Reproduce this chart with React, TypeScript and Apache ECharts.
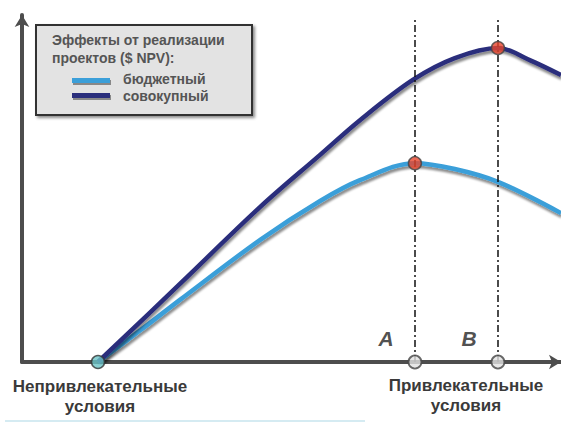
import React, { useEffect, useRef } from "react";
import * as echarts from "echarts";

// Data (x: position along "conditions" axis, 0..100; y: NPV effect, 0..100)
const totalData: number[][] = [
  [14.1, 0], [29.3, 22.5], [44.2, 44.7], [55.3, 59.7],
  [62.7, 69.7], [72.5, 81.3], [80.3, 87.6], [88.3, 90.5], [94.2, 87.0], [100, 82.7],
];
const budgetData: number[][] = [
  [14.1, 0], [22.0, 9.2], [29.3, 17.9], [44.2, 35.2], [55.3, 46.4],
  [62.7, 52.4], [72.9, 57.3], [80.3, 55.6], [88.3, 51.9], [100, 42.9],
];
const peakPoints: number[][] = [[72.9, 57.3], [88.3, 90.5]];
const axisPoints: number[][] = [[72.9, 0], [88.3, 0]];
const axisPointLabels: string[] = ["A", "B"];
const originPoint: number[][] = [[14.1, 0]];
const guideTop = 98.6;
const seriesNames: string[] = ["бюджетный", "совокупный"];
const legendTitle = "Эффекты от реализации\nпроектов ($ NPV):";
const bottomLabels: string[] = ["Непривлекательные\nусловия", "Привлекательные\nусловия"];

const NAVY = "#2b2d7c";
const BLUE = "#3a9fd9";
const AXIS = "#4d4d4d";

export default function App() {
  const ref = useRef<HTMLDivElement>(null);
  useEffect(() => {
    document.body.style.margin = "0";
    const chart = echarts.init(ref.current!, null, { renderer: "svg" });
    const shadow = { shadowColor: "rgba(0,0,0,0.45)", shadowBlur: 2, shadowOffsetY: 3, shadowOffsetX: 1 };
    const dashDot = { color: "#111", width: 1.5, type: [7, 3, 2, 3] as any };
    chart.setOption({
      animation: false,
      backgroundColor: "#ffffff",
      grid: { left: 22, right: 0, top: 15, bottom: 61 },
      xAxis: {
        type: "value", min: 0, max: 100,
        axisLine: { show: true, lineStyle: { color: AXIS, width: 4 }, symbol: ["none", "arrow"], symbolSize: [11, 12] },
        axisTick: { show: false }, axisLabel: { show: false }, splitLine: { show: false },
      },
      yAxis: {
        type: "value", min: 0, max: 100,
        axisLine: { show: true, lineStyle: { color: AXIS, width: 4 }, symbol: ["none", "arrow"], symbolSize: [11, 12] },
        axisTick: { show: false }, axisLabel: { show: false }, splitLine: { show: false },
      },
      series: [
        {
          name: seriesNames[0], type: "line", data: budgetData, smooth: 0.35, showSymbol: false,
          lineStyle: { color: BLUE, width: 4.5, ...shadow }, z: 3,
        },
        {
          name: seriesNames[1], type: "line", data: totalData, smooth: 0.35, showSymbol: false,
          lineStyle: { color: NAVY, width: 4.5, ...shadow }, z: 3,
          markLine: {
            silent: true, symbol: "none", label: { show: false },
            lineStyle: dashDot,
            data: axisPoints.map((p) => [{ coord: [p[0], 0] }, { coord: [p[0], guideTop] }]),
          },
        },
        {
          type: "scatter", data: originPoint, symbolSize: 13, z: 6,
          itemStyle: { color: "#6cc3c6", borderColor: "#333", borderWidth: 1.5 },
        },
        {
          type: "scatter", data: axisPoints, symbolSize: 13, z: 6,
          itemStyle: { color: "#e2e2e2", borderColor: "#444", borderWidth: 1.8 },
          label: {
            show: true, position: [-29, -27],
            formatter: (p: any) => axisPointLabels[p.dataIndex],
            fontFamily: "Liberation Sans", fontStyle: "italic", fontWeight: "bold", fontSize: 21, color: "#222",
          },
        },
        {
          type: "scatter", data: peakPoints, symbolSize: 13, z: 6,
          itemStyle: { color: "#e8452c", borderColor: "#444", borderWidth: 1.5 },
        },
      ],
      graphic: [
        {
          type: "rect", left: 35, top: 24, z: 10,
          shape: { width: 216, height: 90 },
          style: { fill: "#e3e3e3", stroke: "#333", lineWidth: 2, shadowColor: "rgba(0,0,0,0.45)", shadowBlur: 3, shadowOffsetX: 2, shadowOffsetY: 2 },
        },
        {
          type: "text", left: 52, top: 31, z: 11,
          style: { text: legendTitle, fontFamily: "Liberation Sans", fontWeight: "bold", fontSize: 14, lineHeight: 18, fill: "#555" },
        },
        {
          type: "rect", left: 72, top: 78, z: 11,
          shape: { width: 38, height: 5 },
          style: { fill: BLUE, shadowColor: "rgba(0,0,0,0.4)", shadowBlur: 1, shadowOffsetY: 2, shadowOffsetX: 1 },
        },
        {
          type: "rect", left: 72, top: 93, z: 11,
          shape: { width: 38, height: 5 },
          style: { fill: NAVY, shadowColor: "rgba(0,0,0,0.4)", shadowBlur: 1, shadowOffsetY: 2, shadowOffsetX: 1 },
        },
        {
          type: "text", left: 123, top: 72, z: 11,
          style: { text: seriesNames[0], fontFamily: "Liberation Sans", fontWeight: "bold", fontSize: 14, fill: "#555" },
        },
        {
          type: "text", left: 123, top: 89, z: 11,
          style: { text: seriesNames[1], fontFamily: "Liberation Sans", fontWeight: "bold", fontSize: 14, fill: "#555" },
        },
        {
          type: "text", x: 100, y: 376, z: 11,
          style: { text: bottomLabels[0], textAlign: "center", fontFamily: "Liberation Sans", fontWeight: "bold", fontSize: 17, lineHeight: 20, fill: "#3a3a3a" },
        },
        {
          type: "text", x: 466, y: 375, z: 11,
          style: { text: bottomLabels[1], textAlign: "center", fontFamily: "Liberation Sans", fontWeight: "bold", fontSize: 17, lineHeight: 20, fill: "#3a3a3a" },
        },
        {
          type: "line", z: 11,
          shape: { x1: 5, y1: 421, x2: 365, y2: 421 },
          style: { stroke: "#c7e4ee", lineWidth: 1.5 },
        },
      ],
    });
    return () => chart.dispose();
  }, []);
  return <div ref={ref} style={{ width: 561, height: 423, position: "absolute", left: 0, top: 0 }} />;
}
